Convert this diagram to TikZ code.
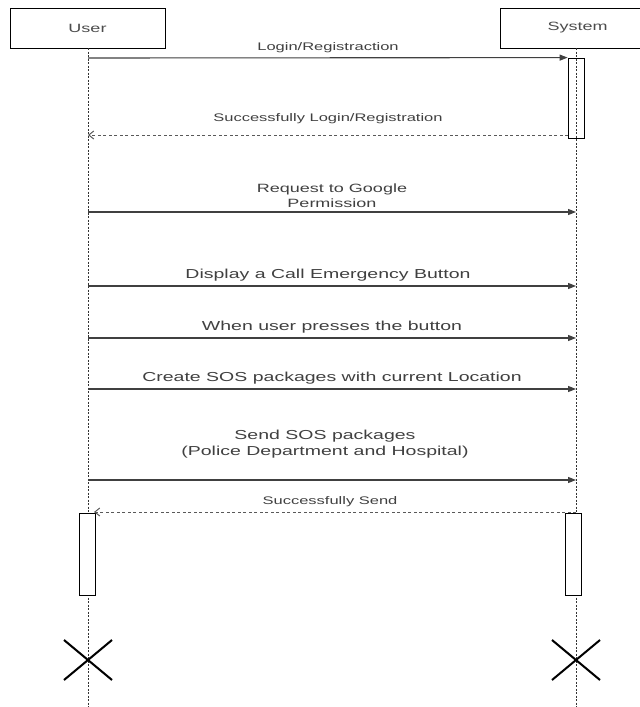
\documentclass[tikz,border=0pt]{standalone}
\usepackage{fontspec}
\setmainfont{Liberation Sans}
\newfontfamily\lblfont[FakeStretch=1.5]{Liberation Sans}
\usetikzlibrary{arrows.meta,shapes.misc}
\begin{document}
\begin{tikzpicture}[x=1pt,y=-1pt,
  actor/.style={draw=black,line width=0.8pt,minimum width=155pt,minimum height=40pt,inner sep=0pt,font=\lblfont\fontsize{12}{14}\selectfont,text=black!70},
  life/.style={draw=black!80,line width=0.6pt,dash pattern=on 2pt off 1.5pt},
  act/.style={draw=black,line width=0.8pt,minimum width=16pt,inner sep=0pt},
  msg/.style={draw=black!75,line width=1.1pt,-{Triangle[length=8pt,width=6pt]}},
  ret/.style={draw=black!65,line width=1pt,dash pattern=on 3pt off 2.5pt,-{Straight Barb[length=5pt,width=8pt]}},
  small/.style={font=\lblfont\fontsize{11}{13}\selectfont,text=black!75,inner sep=0pt},
  big/.style={font=\lblfont\fontsize{13}{16}\selectfont,text=black!75,inner sep=0pt,align=center},
  mid/.style={font=\lblfont\fontsize{12}{15}\selectfont,text=black!75,inner sep=0pt,align=center},
  kill/.style={draw=black,cross out,line width=2pt,minimum width=46pt,minimum height=38pt,inner sep=0pt}]
\useasboundingbox (0,0) rectangle (640,707);
\fill[white] (0,0) rectangle (640,707);

% participants
\node[actor] (user) at (87.5,28) {User};
\node[actor] (system) at (577.5,28) {System};
\coordinate (uend) at (88,707);
\coordinate (send) at (576,707);
\coordinate (utop) at (88,48);
\coordinate (stop) at (576,48);
\draw[life] (utop) -- (uend);
\draw[life] (stop) -- (send);

% activations
\node[act,minimum height=80pt] (act1) at (576,98) {};
\node[act,fill=white,minimum height=82pt] (act2) at (87,554) {};
\node[act,fill=white,minimum height=82pt] (act3) at (573,554) {};

% message end points
\coordinate (u1) at (88,58);
\coordinate (s2) at (568,135);
\coordinate (u2) at (88,135);
\coordinate (u3) at (88,212);  \coordinate (s3) at (576,212);
\coordinate (u4) at (88,286);  \coordinate (s4) at (576,286);
\coordinate (u5) at (88,338);  \coordinate (s5) at (576,338);
\coordinate (u6) at (88,389);  \coordinate (s6) at (576,389);
\coordinate (u7) at (88,480);  \coordinate (s7) at (576,480);
\coordinate (s8) at (576,512);
\coordinate (u8) at (94,512);

% messages
\draw[msg] (u1) -- (act1.north west);
\draw[ret] (s2) -- (u2);
\draw[msg] (u3) -- (s3);
\draw[msg] (u4) -- (s4);
\draw[msg] (u5) -- (s5);
\draw[msg] (u6) -- (s6);
\draw[msg] (u7) -- (s7);
\draw[ret] (s8) -- (u8);

% labels
\node[small] (l1) at (328,48) {Login/Registraction};
\node[small] (l2) at (328,119) {Successfully Login/Registration};
\node[mid] (l3) at (332,195.5) {Request to Google\\Permission};
\node[big] (l4) at (328,275) {Display a Call Emergency Button};
\node[big] (l5) at (332,327) {When user presses the button};
\node[big] (l6) at (332,378) {Create SOS packages with current Location};
\node[big] (l7) at (325,444) {Send SOS packages\\(Police Department and Hospital)};
\node[small] (l8) at (330,502) {Successfully Send};

% destruction marks
\node[kill] (k1) at (88,660) {};
\node[kill] (k2) at (576,660) {};
\end{tikzpicture}
\end{document}
